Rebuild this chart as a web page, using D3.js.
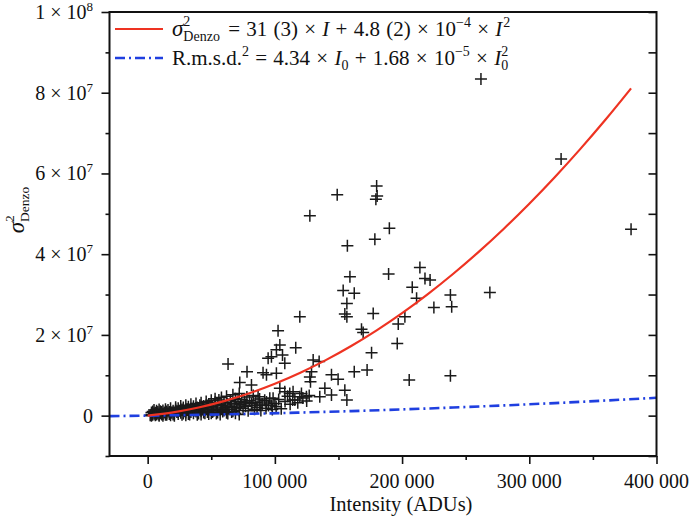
<!DOCTYPE html>
<html><head><meta charset="utf-8">
<script src="https://cdn.jsdelivr.net/npm/d3@7"></script>
<style>body{margin:0;background:#fff}svg{display:block}</style>
</head><body>
<svg id="c" width="692" height="517"></svg>
<script>
// ---- data ----
// outlying reflections: [intensity (thousand ADU), sigma^2 (10^6)]
const outliers = [
 [262,83.4],[325,63.6],[380,46.2],[222,33.6],[218,34.0],[214,36.7],[238,29.9],[239,27.0],[225,26.8],[269,30.5],[238,9.9],
 [180,56.9],[180.4,54.4],[179.4,53.6],[149,54.7],[127.5,49.5],[190,46.4],[178.6,43.7],[157,42.1],[189.4,35.1],[208,31.8],
 [211.4,29.1],[159,34.4],[153.7,31.0],[162.4,30.3],[156.6,27.8],[155,25.2],[156.6,24.5],[177.3,25.3],[119.6,24.5],[168.1,21.4],
 [169.4,20.6],[202.2,24.5],[197,22.7],[196.2,17.9],[176,15.6],[116.4,16.8],[172.5,11.3],[162.4,10.9],[205.6,8.8],[130.1,13.8],
 [134.8,13.4],[128.8,10.9],[128,8.4],[144.5,10.1],[149.7,9.0],[155,6.3],[156.6,3.9],[139.3,6.8],[135.3,4.7],[144.5,5.1],
 [114.3,5.9],[119.6,4.7],[115.7,3.9],[102.5,21.0],[103.9,17.5],[101.2,16.3],[106,15.0],[97.3,14.6],[94.7,14.2],[63.2,12.8],
 [107.8,13.0],[78.1,10.9],[90.7,10.6],[93.4,10.1],[101.2,10.5],[72.4,8.2],[81.6,7.6],[103.9,6.8],[107.8,5.9],[111.7,5.5],
 [120.9,5.5],[86.8,4.7],[88.1,2.6],[81.6,3.0],[76.3,3.4],[93.4,3.4],[98.6,4.3],[97.3,2.6],[127.5,9.6],[124.8,4.7]
];
// dense cluster of weak reflections: [intensity (thousand ADU), sigma^2 (10^6)]
const cluster = [
 [2,0.1],[3,0.3],[3,0.8],[4,0.2],[4,1.0],[5,0.5],[5,1.4],[6,0.1],[6,0.7],[7,0.3],[7,1.2],[8,0.5],[8,0.9],[9,0.2],[9,1.5],
 [10,0.6],[10,1.1],[11,0.3],[11,0.9],[12,1.3],[12,0.4],[13,0.8],[14,0.2],[14,1.6],[15,0.6],[15,1.0],[16,1.4],[17,0.4],
 [17,0.9],[18,1.8],[19,0.7],[20,1.2],[20,0.3],[21,0.6],[22,1.5],[22,2.1],[23,0.9],[24,0.4],[24,1.8],[25,1.2],[26,2.4],
 [26,0.7],[27,1.5],[28,0.5],[28,2.0],[29,1.1],[30,2.6],[30,0.8],[31,1.6],[32,0.4],[32,2.2],[33,1.2],[34,2.8],[34,0.9],
 [35,1.7],[36,0.6],[36,2.3],[37,1.3],[38,3.0],[38,1.0],[39,2.0],[40,0.5],[40,1.5],[41,2.6],[42,1.1],[42,3.2],[43,1.8],
 [44,0.8],[44,2.4],[45,1.4],[46,3.5],[47,2.0],[47,0.9],[48,2.9],[49,1.5],[50,3.8],[50,0.6],[51,2.3],[52,1.2],[53,3.3],
 [53,4.2],[54,1.9],[55,0.8],[55,2.8],[56,3.9],[57,1.5],[58,2.5],[58,4.5],[59,1.0],[60,3.2],[61,2.0],[62,4.8],[62,0.7],
 [63,2.9],[64,1.6],[65,3.7],[66,2.3],[67,5.2],[67,1.1],[68,3.0],[69,4.2],[70,2.0],[71,3.5],[72,1.3],[72,5.5],[73,2.7],
 [74,4.0],[75,1.8],[76,3.2],[77,2.3],[78,4.6],[79,1.2],[80,3.7],[82,2.6],[83,5.0],[84,1.6],[85,3.3],[86,2.1],[88,4.1],
 [89,1.3],[90,2.9],[92,3.8],[93,1.8],[95,2.5],[96,4.3],[98,1.5],[100,3.0],[101,2.2],[103,4.0],[105,1.7],[108,3.5],
 [110,4.8],[112,2.8],[114,3.9],[118,3.2],[122,4.4],[125,3.6],[127,5.0],
 [3,0.0],[6,0.4],[9,0.0],[12,0.0],[15,0.2],[18,0.1],[21,0.0],[24,0.9],[27,0.2],[30,0.1],[33,0.3],[36,1.4],[39,0.2],
 [42,0.3],[45,0.6],[48,0.4],[51,0.9],[54,0.5],[57,0.3],[60,1.3],[63,0.5],[66,0.9],[69,0.6],[72,0.3]
];
// fitted models from the legend: sigma^2 = a*I + b*I^2
const denzoCoef = [31, 4.8e-4];
const rmsdCoef = [4.34, 1.68e-5];
const denzoCurveI = [0,20000,40000,60000,80000,100000,120000,140000,160000,180000,200000,220000,240000,260000,280000,300000,320000,340000,360000,380000];
const rmsdCurveI = [-30000,0,40000,80000,120000,160000,200000,240000,280000,320000,360000,400000];
const xMajor = [0,100000,200000,300000,400000];
const xMinor = [50000,150000,250000,350000];
const xLabels = ["0","100 000","200 000","300 000","400 000"];
const yMajor = [0,2e7,4e7,6e7,8e7,1e8];
const yMinor = [-1e7,1e7,3e7,5e7,7e7,9e7];
const yLabels = [["0",""],["2 × 10","7"],["4 × 10","7"],["6 × 10","7"],["8 × 10","7"],["1 × 10","8"]];

// ---- drawing ----
const FONT = "'Liberation Serif', 'Times New Roman', serif";
const svg = d3.select("#c");
const L=109.5, R=656.5, T=12, B=456;
const x = d3.scaleLinear().domain([-30000,400000]).range([L,R]);
const y = d3.scaleLinear().domain([-1e7,1e8]).range([B,T]);

function txt(g){ return g.append("text").style("font-family",FONT).attr("fill","#111"); }

function rich(g, x0, y0, parts, baseFs, ws){
  let cx = x0;
  parts.forEach(p=>{
    const items = p.stack ? p.stack : [p];
    let w = 0;
    items.forEach(q=>{
      const el = txt(g).attr("x",cx).attr("y",y0+(q.dy||0))
        .attr("font-size",q.fs||baseFs)
        .attr("font-style",q.it?"italic":"normal")
        .style("white-space","pre").style("word-spacing",(ws||0)+"px").text(q.t);
      w = Math.max(w, el.node().getComputedTextLength());
    });
    cx += w + (p.after||0);
  });
  return cx - x0;
}

// crosses
const pts = cluster.concat(outliers).map(d=>({I:d[0]*1e3, s:d[1]*1e6}));
svg.append("g").selectAll("path").data(pts).join("path")
  .attr("transform",d=>`translate(${x(d.I)},${y(d.s)})`)
  .attr("d","M-6,0H6M0,-6V6")
  .attr("stroke","#1a1a1a").attr("stroke-width",1.5).attr("fill","none");

// curves
const line = d3.line().x(d=>x(d[0])).y(d=>y(d[1])).curve(d3.curveMonotoneX);
const denzoPts = denzoCurveI.map(I=>[I, denzoCoef[0]*I+denzoCoef[1]*I*I]);
const rmsdPts = rmsdCurveI.map(I=>[I, rmsdCoef[0]*I+rmsdCoef[1]*I*I]);
svg.append("path").attr("d",line(rmsdPts)).attr("fill","none")
  .attr("stroke","#1f3fe0").attr("stroke-width",2.6).attr("stroke-dasharray","10,4,2,4");
svg.append("path").attr("d",line(denzoPts)).attr("fill","none")
  .attr("stroke","#ee3322").attr("stroke-width",2.2);

// ticks
const tickStyle = g=>{g.select(".domain").remove(); g.selectAll("line").attr("stroke","#111").attr("stroke-width",1.6);};
svg.append("g").attr("transform",`translate(0,${B})`)
  .call(d3.axisBottom(x).tickValues(xMajor).tickSize(8).tickFormat("")).call(tickStyle);
svg.append("g").attr("transform",`translate(0,${B})`)
  .call(d3.axisBottom(x).tickValues(xMinor).tickSize(4).tickFormat("")).call(tickStyle);
svg.append("g").attr("transform",`translate(${L},0)`)
  .call(d3.axisLeft(y).tickValues(yMajor).tickSize(8).tickFormat("")).call(tickStyle);
svg.append("g").attr("transform",`translate(${L},0)`)
  .call(d3.axisLeft(y).tickValues(yMinor).tickSize(4).tickFormat("")).call(tickStyle);
svg.append("g").attr("transform",`translate(${R},0)`)
  .call(d3.axisLeft(y).tickValues(yMajor.concat(yMinor)).tickSize(8).tickFormat("")).call(tickStyle);

// frame
svg.append("rect").attr("x",L).attr("y",T).attr("width",R-L).attr("height",B-T)
  .attr("fill","none").attr("stroke","#111").attr("stroke-width",2);

// x labels
xMajor.forEach((v,i)=>{
  txt(svg).attr("x",x(v)).attr("y",488).attr("text-anchor","middle")
    .attr("font-size",20).text(xLabels[i]);
});
txt(svg).attr("x",(L+R)/2+18).attr("y",511).attr("text-anchor","middle")
  .attr("font-size",20.5).text("Intensity (ADUs)");

// y labels
yMajor.forEach((v,i)=>{
  const g = svg.append("g");
  const parts = [{t:yLabels[i][0]}];
  if(yLabels[i][1]) parts.push({t:yLabels[i][1], fs:13, dy:-8});
  const w = rich(g, 0, y(v)+7, parts, 20);
  g.attr("transform",`translate(${93-w},0)`);
});

// y title
{
  const g = svg.append("g");
  const w = rich(g, 0, 0, [{t:"σ", it:true, fs:23},{stack:[{t:"2",fs:13.5,dy:-10},{t:"Denzo",fs:13.5,dy:5}]}], 20);
  g.attr("transform",`translate(24,${210+w/2}) rotate(-90)`);
}

// legend
svg.append("line").attr("x1",115).attr("x2",163).attr("y1",29).attr("y2",29)
  .attr("stroke","#ee3322").attr("stroke-width",2.2);
svg.append("line").attr("x1",115).attr("x2",163).attr("y1",58).attr("y2",58)
  .attr("stroke","#1f3fe0").attr("stroke-width",2.6).attr("stroke-dasharray","10,4,2,4");
const lg1 = svg.append("g");
rich(lg1, 172, 36, [
  {t:"σ", it:true, fs:23},
  {stack:[{t:"2",fs:14,dy:-10},{t:"Denzo",fs:14,dy:5}], after:2},
  {t:" = 31 (3) × "},{t:"I", it:true},{t:" + 4.8 (2) × 10"},{t:"−4",fs:14,dy:-9},{t:" × "},{t:"I",it:true, after:1},{t:"2",fs:14,dy:-9}
], 21, 1);
const lg2 = svg.append("g");
rich(lg2, 172, 65, [
  {t:"R.m.s.d."},{t:"2",fs:14,dy:-9},{t:" = 4.34 × "},{t:"I",it:true},{t:"0",fs:14,dy:5},
  {t:" + 1.68 × 10"},{t:"−5",fs:14,dy:-9},{t:" × "},{t:"I",it:true},{stack:[{t:"2",fs:14,dy:-9},{t:"0",fs:14,dy:5}]}
], 21, 1);
</script>
</body></html>
